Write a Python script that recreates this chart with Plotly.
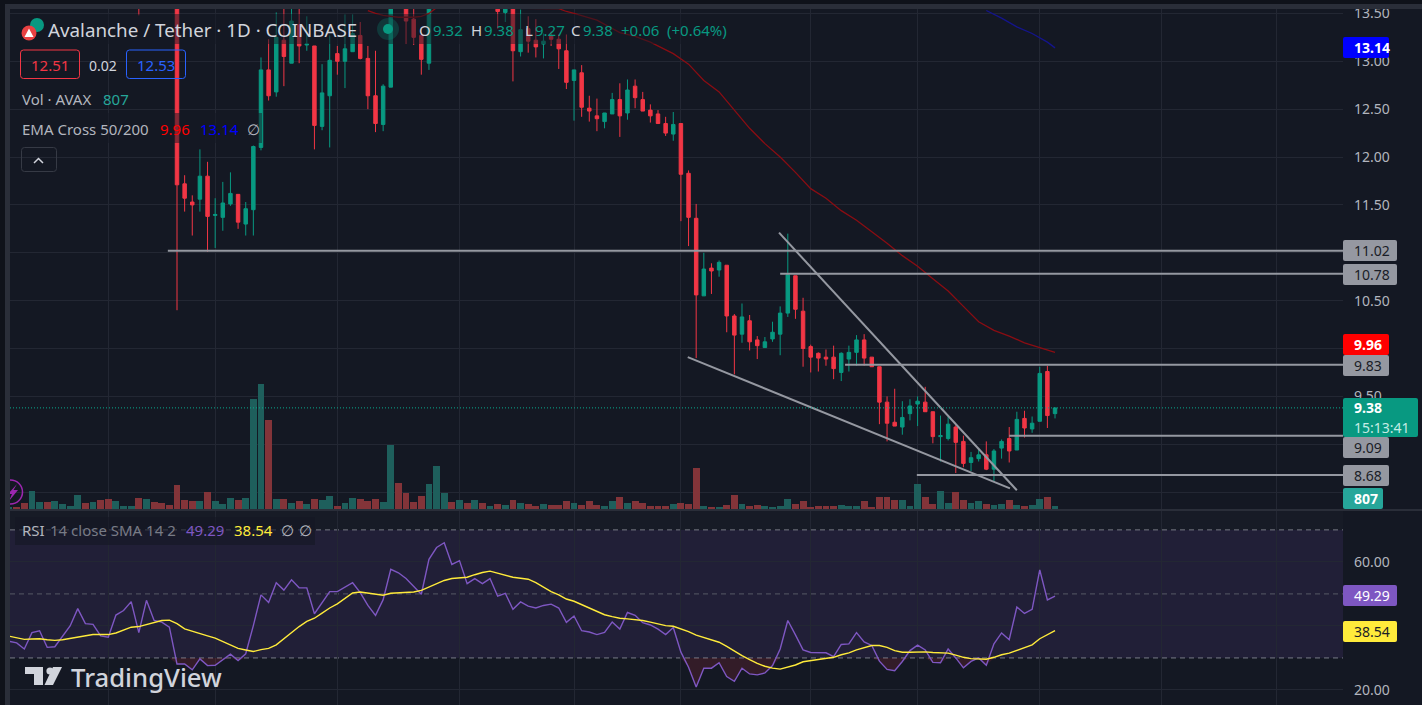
import plotly.graph_objects as go

W, H = 1422, 705
PX_TOP, PX_BOT, PX_RSI = 9, 509, 511
PX_L, PX_R = 10, 1343
BAR0_PX, BAR_PX = 177.0, 7.635
BG = "#141823"
UP, DOWN = "#089981", "#f23645"
FONT = "Noto Sans"

# candles, first one is bar -5 (bars that run above the visible price range are estimates)
candle_bars = list(range(-5, 116))
opens = [13.9,13.8,13.7,14.0,13.95,
 13.90,11.72,11.53,11.56,11.80,11.39,11.37,11.51,11.61,11.30,
 11.45,12.10,12.91,12.68,13.22,12.98,13.38,13.17,13.16,12.32,
 12.64,13.08,13.00,13.10,13.27,13.03,12.64,12.34,12.73,13.95,
 13.75,13.44,13.27,12.98,13.7,14.1,14.3,14.1,14.2,14.0,
 14.1,13.9,13.6,13.51,13.6,13.10,13.34,13.22,13.18,13.27,
 13.23,13.11,12.80,12.88,12.51,12.43,12.37,12.45,12.60,12.46,
 12.74,12.60,12.49,12.45,12.35,12.24,12.35,11.83,11.36,10.55,
 10.84,10.82,10.87,10.34,10.15,10.29,10.09,10.01,10.10,10.15,
 10.37,10.76,10.39,10.02,9.95,9.91,9.91,9.75,9.89,9.96,
 10.09,9.91,9.81,9.44,9.23,9.18,9.32,9.42,9.44,9.34,
 9.08,9.06,9.18,9.03,8.81,8.85,8.89,8.74,8.96,9.06,
 8.94,9.27,9.16,9.24,9.76,9.32]
highs = [14.0,14.1,14.2,14.3,14.3,
 14.10,11.81,11.60,12.08,11.95,11.57,11.74,11.84,11.61,11.53,
 12.12,13.04,13.23,13.51,13.58,13.6,13.7,13.47,13.16,12.97,
 13.27,13.16,13.49,13.49,13.41,13.16,13.11,12.76,13.8,14.1,
 13.9,13.58,13.35,13.8,14.2,14.5,14.4,14.3,14.3,14.2,
 14.2,14.1,13.8,13.7,13.7,13.54,13.47,13.44,13.29,13.31,
 13.28,13.28,12.91,12.96,12.64,12.61,12.46,12.67,12.77,12.81,
 12.81,12.68,12.55,12.49,12.42,12.47,12.35,11.86,11.51,11.00,
 10.89,10.92,10.87,10.36,10.47,10.35,10.13,10.12,10.28,10.44,
 11.20,10.76,10.53,10.04,9.96,9.99,10.03,9.96,10.03,10.14,
 10.15,9.91,9.81,9.50,9.58,9.45,9.47,9.50,9.60,9.34,
 9.30,9.29,9.20,9.09,8.92,8.96,9.03,8.95,9.05,9.18,
 9.34,9.35,9.29,9.81,9.82,9.38]
lows = [13.48,13.62,13.6,13.7,13.7,
 10.40,11.43,11.18,11.43,11.01,11.05,11.23,11.49,11.25,11.18,
 11.18,12.07,12.59,12.63,12.74,12.98,12.98,13.11,12.08,12.28,
 12.10,12.86,12.72,13.10,13.02,12.50,12.26,12.27,12.73,13.58,
 13.18,13.17,12.86,12.91,13.6,13.9,13.9,13.8,13.8,13.7,
 13.75,13.7,13.34,13.41,12.79,13.05,13.09,13.04,13.03,13.16,
 12.92,12.71,12.38,12.42,12.37,12.27,12.30,12.45,12.21,12.39,
 12.51,12.48,12.36,12.35,12.22,12.17,11.33,11.07,9.90,10.55,
 10.57,10.75,10.17,9.73,10.06,9.98,9.89,10.01,10.07,9.93,
 10.33,10.31,9.81,9.75,9.76,9.82,9.68,9.66,9.76,9.82,
 9.82,9.81,9.21,9.03,9.19,9.10,9.25,9.19,9.34,9.01,
 8.82,9.04,8.70,8.76,8.72,8.82,8.73,8.61,8.85,8.81,
 8.94,9.07,9.12,9.24,9.17,9.27]
closes = [13.7,13.7,14.0,13.8,13.9,
 11.71,11.57,11.50,11.80,11.38,11.40,11.52,11.62,11.32,11.46,
 12.11,12.91,12.64,13.25,13.05,13.42,13.16,13.18,12.33,12.67,
 13.01,13.00,13.13,13.29,13.03,12.64,12.35,12.74,13.6,13.75,
 13.42,13.25,13.02,13.7,14.1,14.3,14.1,14.2,14.0,14.1,
 13.9,14.0,13.52,13.55,13.11,13.33,13.21,13.15,13.21,13.23,
 13.13,12.78,12.91,12.52,12.48,12.40,12.46,12.60,12.43,12.70,
 12.62,12.48,12.43,12.35,12.25,12.34,11.82,11.37,10.56,10.83,
 10.81,10.90,10.34,10.14,10.33,10.07,10.03,10.07,10.17,10.37,
 10.77,10.41,10.00,9.91,9.90,9.89,9.79,9.95,9.96,10.09,
 9.90,9.81,9.44,9.22,9.19,9.28,9.40,9.45,9.34,9.08,
 9.09,9.21,9.02,8.80,8.86,8.89,8.74,8.93,9.03,8.93,
 9.26,9.17,9.22,9.74,9.30,9.38]

# volume and RSI start at bar -22
full_bars = list(range(-22, 116))
volumes = [540,540,1540,4860,1890,1890,2160,1350,810,3780,
 1620,1890,2430,2700,2160,810,810,2970,2700,1890,
 1620,1080,
 6480,2430,2160,2160,4590,2160,1350,2970,2430,2970,
 29700,33750,24030,2700,2700,1620,2160,1350,2700,2430,
 3510,810,1620,2970,2700,2160,2700,1890,17280,7020,
 4320,1890,3510,6750,11610,4320,1890,2430,1620,2430,
 1620,810,1350,1080,2430,1755,1485,810,1485,1080,
 1080,2050,1755,1080,2050,1080,810,2050,3240,1755,
 2050,1755,810,810,810,1485,1755,1485,11205,810,
 540,540,1080,3780,1485,810,1080,810,540,810,
 2700,1485,2050,540,810,810,810,1080,810,810,
 2050,540,3240,3240,2430,2430,810,6750,3240,1485,
 4995,1755,4725,2430,1755,2050,1485,1080,1485,2430,
 1080,810,1080,2700,3240,807]
vol_dir = ("grrggrgggg" "rgrrgggrgr" "rr"
 "rrrgrgggrg" "ggrgrgrgrg" "grggrrrggr" "rrrgggrgrg"
 "rgrgrgrrgr" "rrgrrrggrg" "rrrrrgrrrg" "rgrrgrrggg"
 "grrrrrrggg" "rrrrrgggrr" "ggrrggrggr" "grggrg")

rsi = [35.2,34.7,32.8,37.9,38.5,33.3,33.5,36.8,40.0,45.4,
 40.7,40.5,36.9,36.5,43.4,44.8,47.6,37.9,48.0,41.7,
 41.2,39.6,
 28.1,28.1,26.3,29.7,27.6,27.7,29.4,31.2,29.2,31.3,
 40.1,49.7,47.3,53.5,51.2,54.4,51.9,51.9,43.8,47.3,
 50.7,50.7,52.1,53.5,50.4,46.4,43.3,48.2,57.7,56.6,
 54.8,52.4,49.9,60.8,64.5,66.0,59.2,60.4,53.2,54.8,
 53.2,54.8,49.3,
 50.2,45.2,47.5,46.2,45.6,46.4,46.8,
 45.6,41.1,43.1,38.5,38.1,37.3,38.0,41.2,39.0,44.2,
 43.3,41.0,40.3,39.0,37.3,39.5,31.8,27.1,20.9,26.8,
 26.8,28.5,24.2,22.7,26.8,25.0,24.7,25.3,27.6,32.8,
 41.7,37.2,32.5,31.7,31.7,31.6,30.4,34.2,34.4,37.9,
 35.0,33.9,29.0,26.4,26.0,28.9,32.3,34.0,32.5,28.6,
 28.5,32.8,30.0,26.9,28.9,30.0,27.7,34.4,37.8,35.7,
 45.9,43.9,45.2,57.5,48.1,49.29]
rsi_sma = [36.8,36.2,35.8,35.9,36.0,35.7,35.5,35.7,36.1,36.7,
 37.0,37.3,37.3,37.3,37.8,38.6,39.6,39.8,40.5,41.2,
 41.7,41.8,
 40.7,39.1,38.3,37.5,36.9,36.2,35.2,34.2,33.0,32.5,
 32.0,32.6,33.0,34.1,36.0,38.1,39.8,41.4,42.4,44.0,
 45.6,46.9,48.5,50.3,50.6,50.3,50.0,49.6,50.2,50.4,
 50.5,50.6,51.1,52.1,53.2,54.2,54.8,55.1,55.2,56.0,
 56.7,57.1,56.5,
 55.8,55.2,54.9,54.6,53.5,52.1,50.7,
 49.7,48.4,47.7,46.6,45.6,44.4,43.5,42.9,42.4,42.2,
 42.0,41.7,41.2,40.7,40.1,39.9,39.1,38.2,37.1,36.4,
 35.6,34.9,33.6,32.1,30.7,29.5,28.3,27.4,26.8,26.5,
 27.2,27.8,28.8,29.2,29.5,29.8,30.2,31.0,31.6,32.5,
 33.2,33.9,33.9,33.3,32.3,31.8,31.8,31.9,31.9,31.7,
 31.6,31.5,30.9,30.2,29.8,29.6,29.6,30.2,31.0,31.5,
 32.4,33.1,34.1,36.0,37.4,38.54]

ema50_bars = [25,26,27,28,29,30,31,32,33,34,50,51,52,55,58,60,62,65,67,69,71,73,75,77,79,81,83,85,87,89,91,93,95,97,99,101,103,105,107,109,111,113,115]
ema50 = [13.53,13.50,13.48,13.47,13.46,13.46,13.46,13.47,13.50,13.56,13.55,13.52,13.50,13.43,13.30,13.26,13.20,13.08,12.97,12.80,12.68,12.49,12.30,12.14,12.00,11.84,11.67,11.57,11.44,11.34,11.22,11.10,10.97,10.86,10.73,10.60,10.44,10.28,10.19,10.13,10.06,10.01,9.96]
ema200_bars = [106,108,110,112,114,115]
ema200 = [13.53,13.45,13.36,13.29,13.20,13.14]

level_prices = [11.02, 10.78, 9.83, 9.09, 8.68]
level_start_bars = [-1.2, 79, 87.5, 109, 96.9]
falling_upper_bars, falling_upper_prices = [78.85, 110.0], [11.21, 8.52]
falling_lower_bars, falling_lower_prices = [66.9, 109.1], [9.91, 8.54]

month_bars = [-9, 5, 21, 37, 52, 66, 83, 97, 113, 129, 144]
price_ticks = [8.5, 9.0, 9.5, 10.0, 10.5, 11.0, 11.5, 12.0, 12.5, 13.0, 13.5]
# labels that sit completely behind a value flag in the reference are left blank
price_tick_labels = ["", "", "9.50", "", "10.50", "", "11.50", "12.00", "12.50", "13.00", "13.50"]
rsi_ticks = [20, 40, 60]
rsi_tick_labels = ["20.00", "", "60.00"]
rsi_levels = [70, 50, 30]

def fx(p): return p / W
def fy(p): return 1 - p / H
x_lo = (PX_L - BAR0_PX) / BAR_PX
x_hi = (PX_R - BAR0_PX) / BAR_PX
# price scale: 13.5 sits at y=13 with 95.75 px per unit
price_hi = 13.640 - PX_TOP * 0.010444
price_lo = 13.640 - PX_BOT * 0.010444

fig = go.Figure()
fig.add_trace(go.Bar(x=full_bars, y=volumes, width=0.9, yaxis="y",
    marker=dict(color=["#1e5f5c" if d == "g" else "#833439" for d in vol_dir], line_width=0), hoverinfo="skip"))
fig.add_trace(go.Candlestick(x=candle_bars, open=opens, high=highs, low=lows, close=closes, yaxis="y2",
    increasing=dict(line=dict(color=UP, width=1), fillcolor=UP),
    decreasing=dict(line=dict(color=DOWN, width=1), fillcolor=DOWN),
    whiskerwidth=0, hoverinfo="skip"))
fig.add_trace(go.Scatter(x=ema50_bars, y=ema50, yaxis="y2", mode="lines", line=dict(color="#8a0d13", width=1.3), hoverinfo="skip"))
fig.add_trace(go.Scatter(x=ema200_bars, y=ema200, yaxis="y2", mode="lines", line=dict(color="#14148c", width=1.3), hoverinfo="skip"))
for p, s in zip(level_prices, level_start_bars):
    fig.add_trace(go.Scatter(x=[s, x_hi], y=[p, p], yaxis="y2", mode="lines", line=dict(color="#9598a1", width=2), hoverinfo="skip"))
for bx, by in [(falling_upper_bars, falling_upper_prices), (falling_lower_bars, falling_lower_prices)]:
    fig.add_trace(go.Scatter(x=bx, y=by, yaxis="y2", mode="lines", line=dict(color="#9598a1", width=2), hoverinfo="skip"))
# oversold fill
fig.add_trace(go.Scatter(x=full_bars, y=[30] * len(full_bars), yaxis="y3", mode="lines", line=dict(width=0), hoverinfo="skip"))
fig.add_trace(go.Scatter(x=full_bars, y=[min(v, 30) for v in rsi], yaxis="y3", mode="lines", line=dict(width=0),
    fill="tonexty", fillcolor="rgba(242,54,69,0.14)", hoverinfo="skip"))
fig.add_trace(go.Scatter(x=full_bars, y=rsi, yaxis="y3", mode="lines", line=dict(color="#7e57c2", width=1.4), hoverinfo="skip"))
fig.add_trace(go.Scatter(x=full_bars, y=rsi_sma, yaxis="y3", mode="lines", line=dict(color="#ffeb3b", width=1.4), hoverinfo="skip"))

shapes, annos = [], []
def rr(x0, y0, x1, y1, fill=None, line=None, r=2, width=1, layer="above"):
    a, b, c, d = fx(x0), fy(y0), fx(x1), fy(y1)
    rx, ry = r / W, r / H
    path = (f"M {a+rx} {b} L {c-rx} {b} Q {c} {b} {c} {b-ry} L {c} {d+ry} Q {c} {d} {c-rx} {d} "
            f"L {a+rx} {d} Q {a} {d} {a} {d+ry} L {a} {b-ry} Q {a} {b} {a+rx} {b} Z")
    shapes.append(dict(type="path", path=path, xref="paper", yref="paper", fillcolor=fill or "rgba(0,0,0,0)",
                       line=dict(color=line or "rgba(0,0,0,0)", width=width if line else 0), layer=layer))
def rect(x0, y0, x1, y1, fill, layer="above"):
    shapes.append(dict(type="rect", xref="paper", yref="paper", x0=fx(x0), x1=fx(x1), y0=fy(y0), y1=fy(y1),
                       fillcolor=fill, line_width=0, layer=layer))
def circle(cx, cy, r, fill=None, line=None, width=1):
    shapes.append(dict(type="circle", xref="paper", yref="paper", x0=fx(cx-r), x1=fx(cx+r), y0=fy(cy-r), y1=fy(cy+r),
                       fillcolor=fill or "rgba(0,0,0,0)", line=dict(color=line or "rgba(0,0,0,0)", width=width if line else 0), layer="above"))
def poly(points, fill):
    path = "M " + " L ".join(f"{fx(a)} {fy(b)}" for a, b in points) + " Z"
    shapes.append(dict(type="path", path=path, xref="paper", yref="paper", fillcolor=fill, line_width=0, layer="above"))
def text(s, x, y, size=14, color="#d1d4dc", anchor="left", bold=False, family=FONT, weight=None):
    f = dict(size=size, color=color, family=family)
    if weight:
        f["weight"] = weight
    annos.append(dict(text=f"<b>{s}</b>" if bold else s, x=fx(x), y=fy(y), xref="paper", yref="paper", showarrow=False,
                      xanchor=anchor, yanchor="middle", font=f, borderpad=0))

# RSI band and levels
rect(PX_L, PX_RSI, PX_R, 530, "#171b26", layer="below")
shapes.append(dict(type="rect", xref="paper", yref="y3", x0=fx(PX_L), x1=fx(PX_R), y0=rsi_levels[2], y1=rsi_levels[0],
                   fillcolor="rgba(126,87,194,0.13)", line_width=0, layer="below"))
for lv, c in zip(rsi_levels, ["#787b86", "#565a66", "#787b86"]):
    shapes.append(dict(type="line", xref="paper", yref="y3", x0=fx(PX_L), x1=fx(PX_R), y0=lv, y1=lv,
                       line=dict(color=c, width=1, dash="5px,4px"), layer="below"))
shapes.append(dict(type="line", xref="paper", yref="y2", x0=fx(PX_L), x1=fx(PX_R), y0=closes[-1], y1=closes[-1],
                   line=dict(color="#0aa88e", width=1, dash="1px,2px"), layer="above"))

# frame
rect(0, 509, W, 511, "#2a2e39")
rect(0, 0, W, 4, "#0f121a")
rect(0, 4, W, 9, "#2a2e39")
rect(0, 0, 5, H, "#0f121a")
rect(5, 4, 10, H, "#2a2e39")

# legend backdrops
rect(15, 14, 735, 44, "rgba(20,24,35,0.5)")
rect(15, 113, 262, 143, "rgba(20,24,35,0.5)")
rect(15, 517, 315, 545, "rgba(20,24,35,0.6)")

# symbol header
circle(37, 25, 7, "#089981")
circle(29, 33, 7.5, "#e84142")
poly([(29, 28.5), (33.5, 37), (24.5, 37)], "#ffffff")
text("Avalanche / Tether · 1D · COINBASE", 47, 30, 18.8, "#d1d4dc")
circle(388, 29, 11, "rgba(8,153,129,0.25)")
circle(388, 29, 5, UP)
for s, x, c in [("O", 418, "#d1d4dc"), ("9.32", 432, UP), ("H", 470, "#d1d4dc"), ("9.38", 483, UP), ("L", 524, "#d1d4dc"),
                ("9.27", 534, UP), ("C", 570, "#d1d4dc"), ("9.38", 582, UP), ("+0.06", 620, UP), ("(+0.64%)", 666, UP)]:
    text(s, x, 30, 15, c)

# bid/ask
rr(20.5, 50, 79.5, 78.5, None, "#f23645", 3)
rr(126.5, 50, 185.5, 78.5, None, "#2962ff", 3)
text("12.51", 50, 65, 15, "#f23645", "center")
text("0.02", 103, 65, 14, "#d1d4dc", "center")
text("12.53", 156, 65, 15, "#2962ff", "center")
text("Vol · AVAX", 21, 99, 15, "#b2b5be")
text("807", 102, 99, 15, "#26a69a")
text("EMA Cross 50/200", 21, 129, 15, "#b2b5be")
text("9.96", 159, 129, 15, "#ff0000")
text("13.14", 199, 129, 15, "#0000ff")
text("∅", 246, 129, 15, "#b2b5be")
rr(21.5, 147.5, 56.5, 171.5, None, "#363a45", 3)
shapes.append(dict(type="path", xref="paper", yref="paper", layer="above", line=dict(color="#d1d4dc", width=1.5),
                   path=f"M {fx(34)} {fy(163)} L {fx(38.5)} {fy(158.5)} L {fx(43)} {fy(163)}"))

# RSI legend
text("RSI", 21, 530, 15, "#b2b5be")
text("14 close SMA 14 2", 49, 530, 15, "#787b86")
text("49.29", 185, 530, 15, "#7e57c2")
text("38.54", 233, 530, 15, "#ffeb3b")
text("∅", 280, 530, 15, "#b2b5be")
text("∅", 298, 530, 15, "#b2b5be")

# logo
poly([(25, 667), (43, 667), (43, 685), (34, 685), (34, 674), (25, 674)], "#d1d4dc")
circle(50, 671, 3.6, "#d1d4dc")
poly([(62, 667), (53, 685), (44.5, 685), (53, 667)], "#d1d4dc")
text("TradingView", 70, 677, 25.7, "#d1d4dc", weight=500)

# lightning
circle(10.5, 492, 12, None, "#9c27b0", 1.5)
poly([(17, 484), (8, 494), (12, 494), (9, 501), (18, 490), (13.5, 490)], "#9c27b0")
rect(0, 470, 5, 509, "#0f121a")
rect(5, 470, 10, 509, "#2a2e39")

# price-scale labels
def label(s, y0, y1, x1, fill, color, bold=False, x_text=1353):
    rr(1343, y0, x1, y1, fill)
    text(s, x_text, (y0 + y1) / 2, 14, color, bold=bold)
label("13.14", 37, 58, 1389, "#0000ff", "#ffffff", True)
label("11.02", 240, 261, 1397, "#9598a1", "#1a1d27")
label("10.78", 264, 285, 1397, "#9598a1", "#1a1d27")
label("9.83", 355, 376, 1389, "#9598a1", "#1a1d27")
label("9.96", 334, 355, 1389, "#ff0000", "#ffffff", True)
rr(1343, 398, 1418, 437, "#089981")
text("9.38", 1353, 408, 14, "#ffffff", bold=True)
text("15:13:41", 1353, 427, 14, "#c5ece5")
label("9.09", 437, 458, 1389, "#9598a1", "#1a1d27")
label("8.68", 465, 486, 1389, "#9598a1", "#1a1d27")
label("807", 488, 509, 1383, "#26a69a", "#ffffff", True)
label("49.29", 585, 606, 1397, "#7e57c2", "#ffffff")
label("38.54", 621, 642, 1397, "#ffeb3b", "#1a1d27")

GRID = "#232733"
fig.update_layout(
    width=W, height=H, autosize=False, margin=dict(l=0, r=0, t=0, b=0, pad=0),
    paper_bgcolor=BG, plot_bgcolor="rgba(0,0,0,0)", showlegend=False, boxgap=0.35, bargap=0,
    font=dict(family=FONT, color="#b2b5be", size=14), shapes=shapes, annotations=annos,
    xaxis=dict(domain=[fx(PX_L), fx(PX_R)], range=[x_lo, x_hi], tickvals=month_bars, showticklabels=False, automargin=False,
               showgrid=True, gridcolor=GRID, gridwidth=1, zeroline=False, rangeslider=dict(visible=False), ticks="", anchor="y"),
    yaxis=dict(domain=[fy(PX_BOT), fy(PX_TOP)], range=[0, 500 * 270], showgrid=False, showticklabels=False, zeroline=False, fixedrange=True, automargin=False),
    yaxis2=dict(overlaying="y", side="right", anchor="x", range=[price_lo, price_hi], tickvals=price_ticks, automargin=False,
                ticktext=price_tick_labels, showgrid=True, gridcolor=GRID, zeroline=False, ticks="",
                tickfont=dict(size=14, color="#b2b5be", family=FONT), ticklabelstandoff=10),
    yaxis3=dict(domain=[0, fy(PX_RSI)], side="right", anchor="x", range=[15.3, 75.9], tickvals=rsi_ticks, automargin=False,
                ticktext=rsi_tick_labels, showgrid=True, gridcolor=GRID, zeroline=False, ticks="",
                tickfont=dict(size=14, color="#b2b5be", family=FONT), ticklabelstandoff=10),
)
fig.write_html("out.html", config={"displayModeBar": False},
               post_script="document.body.style.margin='0';document.body.style.overflow='hidden';")
